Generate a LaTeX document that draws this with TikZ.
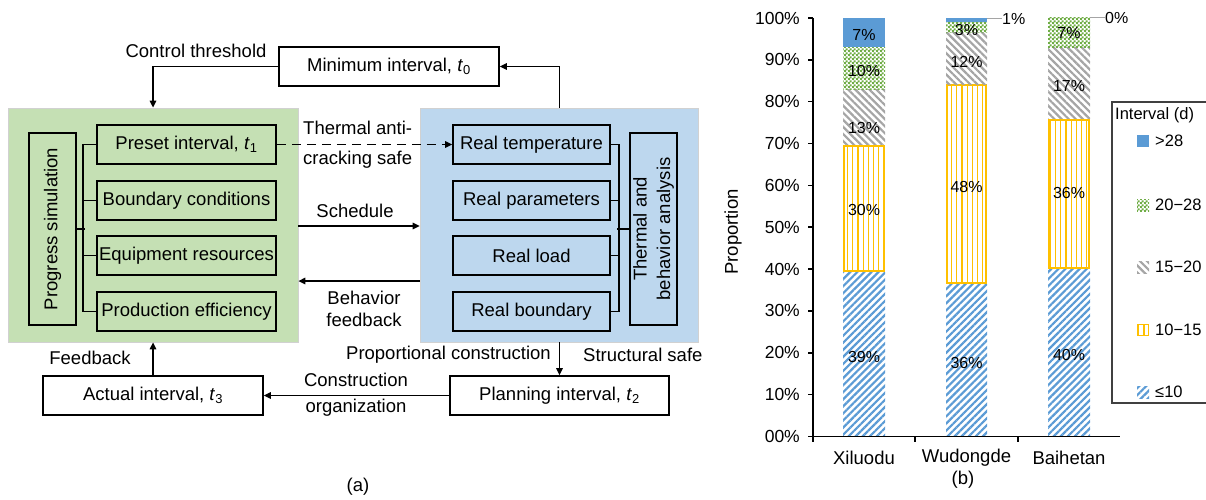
\documentclass[tikz,border=0pt]{standalone}
\usepackage{fontspec}
\setmainfont{Liberation Sans}
\usetikzlibrary{arrows.meta,patterns.meta}
\definecolor{gfill}{HTML}{C5E0B4}
\definecolor{bfill}{HTML}{BDD7EE}
\definecolor{cblue}{HTML}{5B9BD5}
\definecolor{cyel}{HTML}{FFC000}
\definecolor{cgray}{HTML}{A5A5A5}
\definecolor{cgreen}{HTML}{70AD47}
\newcommand\myfs[1]{\fontsize{#1}{#1}\selectfont}
\newcommand\tsb[1]{\textit{t}\textsubscript{#1}}
\tikzdeclarepattern{name=chk,type=uncolored,bounding box={(0pt,0pt) and (4pt,4pt)},tile size={(4pt,4pt)},code={\fill (0pt,0pt) rectangle (2.3pt,2.3pt); \fill (2pt,2pt) rectangle (4.3pt,4.3pt);}}
\tikzset{
  box/.style={draw, line width=1.6pt, minimum height=39pt, inner sep=0pt, font=\myfs{18.5}},
  vbox/.style={draw, line width=1.6pt, rotate=90, minimum width=192pt, minimum height=47pt, inner sep=0pt, font=\myfs{18.5}, align=center},
  bg/.style={draw=black!18, line width=0.8pt, inner sep=0pt},
  arr/.style={line width=1.4pt, -{Triangle[length=7pt,width=6.5pt]}},
  lnk/.style={line width=1.6pt},
  lbl/.style={font=\myfs{18.5}, inner sep=0pt},
  tk/.style={font=\myfs{17.5}, inner sep=0pt, anchor=east},
  bl/.style={font=\myfs{16}, inner sep=0pt},
  lg/.style={font=\myfs{16.5}, inner sep=0pt, anchor=west},
  pblue/.style={pattern={Lines[angle=45,distance=5pt,line width=2.2pt]}, pattern color=cblue},
  pyel/.style={pattern={Lines[angle=90,distance=5.2pt,line width=1.3pt]}, pattern color=cyel, draw=cyel, line width=2pt},
  pgray/.style={pattern={Lines[angle=-45,distance=5pt,line width=2.2pt]}, pattern color=cgray},
  pgreen/.style={pattern=chk, pattern color=cgreen},
}
\begin{document}
\begin{tikzpicture}[x=1pt,y=-1pt]
\useasboundingbox (0,0) rectangle (1206,500);
% ---------- (a) ----------
\node[bg, fill=gfill, minimum width=290pt, minimum height=234pt] (G) at (153,225) {};
\node[bg, fill=bfill, minimum width=278pt, minimum height=234pt] (B) at (559,225) {};
\node[box, minimum width=220pt] (min) at (389,66.5) {Minimum interval, \tsb{0}};
\node[box, minimum width=220pt] (act) at (153,395.5) {Actual interval, \tsb{3}};
\node[box, minimum width=219pt] (plan) at (559.5,395.5) {Planning interval, \tsb{2}};
\node[vbox] (prog) at (52.5,229) {Progress simulation};
\node[box, minimum width=179pt] (pre) at (186.5,144.5) {Preset interval, \tsb{1}};
\node[box, minimum width=179pt] (bc) at (186.5,200.5) {Boundary conditions};
\node[box, minimum width=179pt] (eq) at (186.5,255.5) {Equipment resources};
\node[box, minimum width=179pt] (pe) at (186.5,311.5) {Production efficiency};
\node[box, minimum width=157pt] (rt) at (531.5,144.5) {Real temperature};
\node[box, minimum width=157pt] (rp) at (531.5,200.5) {Real parameters};
\node[box, minimum width=157pt] (rl) at (531.5,255.5) {Real load};
\node[box, minimum width=157pt] (rb) at (531.5,311.5) {Real boundary};
\node[vbox] (th) at (653.5,229) {Thermal and\\[5pt]behavior analysis};
% brackets
\draw[lnk] (pre.west) -- ++(-13,0) |- (pe.west);
\draw[lnk] (bc.west) -- ++(-13,0);
\draw[lnk] (eq.west) -- ++(-13,0);
\draw[lnk] (prog.south) -- ++(8,0);
\draw[lnk] (rt.east) -- ++(8,0) |- (rb.east);
\draw[lnk] (rp.east) -- ++(8,0);
\draw[lnk] (rl.east) -- ++(8,0);
\draw[lnk] (th.north) -- ++(-12,0);
% connectors
\coordinate (ys) at (0,226);
\coordinate (yb) at (0,281);
\draw[arr] (min.west) -| (G.north -| act.north);
\draw[arr] (B.north -| plan.north) |- (min.east);
\draw[arr, dashed, dash pattern=on 9pt off 6pt] (pre.east) -- (rt.west);
\draw[arr] (G.east |- ys) -- (B.west |- ys);
\draw[arr] (B.west |- yb) -- (G.east |- yb);
\draw[arr] (B.south -| plan.north) -- (plan.north);
\draw[arr] (plan.west) -- (act.east);
\draw[arr] (act.north) -- (G.south -| act.north);
% labels
\node[lbl] (l1) at (196,51) {Control threshold};
\node[lbl, anchor=west] (l2) at (303,128) {Thermal anti-};
\node[lbl, anchor=west] (l3) at (303,160) {cracking safe};
\node[lbl] (l4) at (355,211) {Schedule};
\node[lbl] (l5) at (364,298) {Behavior};
\node[lbl] (l6) at (364,320) {feedback};
\node[lbl, anchor=east] (l7) at (551,355) {Proportional construction};
\node[lbl, anchor=west] (l8) at (583,355) {Structural safe};
\node[lbl] (l9) at (356,380) {Construction};
\node[lbl] (l10) at (356,408) {organization};
\node[lbl] (l11) at (90,358) {Feedback};
\node[lbl] (ca) at (358,487) {(a)};
% ---------- (b) ----------
\foreach \i in {0,...,10}{
  \pgfmathsetmacro\yy{436.5-41.85*\i}
  \draw[line width=1.6pt] (808,\yy) -- (813,\yy);
  \node[tk] at (800,\yy) {\i0\%};
}
% bars Xiluodu
\fill[pblue] (843,436.5) rectangle (885,272);
\draw[pyel] (844,271) rectangle (884,145.5);
\fill[pgray] (843,144.5) rectangle (885,89.5);
\fill[pgreen] (843,89.5) rectangle (885,47.5);
\fill[cblue] (843,47.5) rectangle (885,18);
% Wudongde
\fill[pblue] (946,436.5) rectangle (987,284);
\draw[pyel] (947,283) rectangle (986,85.5);
\fill[pgray] (946,84.5) rectangle (987,32.5);
\fill[pgreen] (946,32.5) rectangle (987,22.5);
\fill[cblue] (946,22.5) rectangle (987,18);
% Baihetan
\fill[pblue] (1048,436.5) rectangle (1090,268.5);
\draw[pyel] (1049,267.5) rectangle (1089,120);
\fill[pgray] (1048,119) rectangle (1090,47.5);
\fill[pgreen] (1048,47.5) rectangle (1090,18);
% axes
\draw[line width=1.8pt] (813,18) -- (813,436.5) -- (1120,436.5);
\foreach \xx in {813,915,1018}{\draw[line width=1.6pt] (\xx,436.5) -- (\xx,442);}
% bar labels
\node[bl] at (864,35) {7\%};
\node[bl] at (864,70.5) {10\%};
\node[bl] at (864,128) {13\%};
\node[bl] at (864,210) {30\%};
\node[bl] at (864,356.5) {39\%};
\node[bl] at (966.5,29.5) {3\%};
\node[bl] at (966.5,61.5) {12\%};
\node[bl] at (966.5,186.5) {48\%};
\node[bl] at (966.5,363) {36\%};
\node[bl] at (1069,33) {7\%};
\node[bl] at (1069,86) {17\%};
\node[bl] at (1069,193) {36\%};
\node[bl] at (1069,355) {40\%};
\draw[cgray, line width=1pt] (987,19) -- (1002,19);
\node[bl, anchor=west] at (1002,19) {1\%};
\draw[cgray, line width=1pt] (1090,18) -- (1105,18);
\node[bl, anchor=west] at (1105,18) {0\%};
% axis labels
\node[font=\myfs{18.5}, inner sep=0pt] at (864,458) {Xiluodu};
\node[font=\myfs{18.5}, inner sep=0pt] at (966.5,458) {Wudongde};
\node[font=\myfs{18.5}, inner sep=0pt] at (1069,458) {Baihetan};
\node[font=\myfs{18.5}, inner sep=0pt, rotate=90] at (733,232) {Proportion};
\node[font=\myfs{18.5}, inner sep=0pt] (cb) at (963,480) {(b)};
% legend
\draw[line width=1.2pt, black!75] (1210,102) -- (1112,102) -- (1112,403) -- (1210,403);
\node[lg] at (1115,115) {Interval (d)};
\fill[cblue] (1137,135) rectangle (1149,147);
\node[lg] at (1155,141) {>28};
\fill[pgreen] (1137,199) rectangle (1149,211);
\node[lg] at (1155,205) {20−28};
\fill[pgray] (1137,261) rectangle (1149,273);
\node[lg] at (1155,267) {15−20};
\draw[pyel, line width=1.2pt] (1137.5,324.5) rectangle (1148.5,335.5);
\node[lg] at (1155,330) {10−15};
\fill[pblue] (1137,386) rectangle (1149,398);
\node[lg] at (1155,392) {≤10};
\end{tikzpicture}
\end{document}
